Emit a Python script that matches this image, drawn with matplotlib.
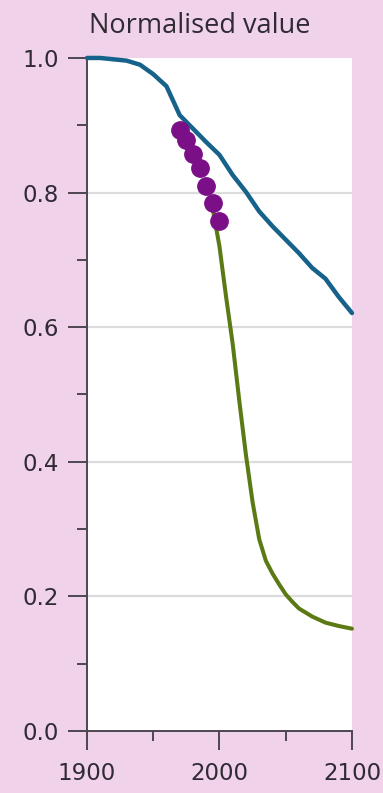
import numpy as np
import matplotlib
matplotlib.use('Agg')
import matplotlib.pyplot as plt
from matplotlib.ticker import MultipleLocator

plt.rcParams['font.family'] = ['DejaVu Sans']

PINK = '#f0d2eb'
BLUECOLOR = '#17628a'
GREENCOLOR = '#5b7a14'
DOTCOLOR = '#7a0f88'
AXISCOLOR = '#4d4650'
TEXTCOLOR = '#2f2a33'

# blue curve
blue_years = [1900, 1910, 1920, 1930, 1940, 1950, 1960, 1970, 1980, 1990, 2000,
              2010, 2020, 2030, 2040, 2050, 2060, 2070, 2080, 2090, 2100]
blue_vals = [1.0, 1.0, 0.998, 0.996, 0.99, 0.976, 0.958, 0.915, 0.895, 0.875, 0.856,
             0.826, 0.801, 0.772, 0.75, 0.73, 0.71, 0.688, 0.672, 0.645, 0.621]

# green curve
green_years = [1995, 2000, 2005, 2010, 2015, 2020, 2025, 2030, 2035, 2040, 2045,
               2050, 2055, 2060, 2070, 2080, 2090, 2100]
green_vals = [0.775, 0.72, 0.645, 0.575, 0.49, 0.41, 0.34, 0.285, 0.253, 0.234, 0.218,
              0.203, 0.192, 0.182, 0.17, 0.161, 0.156, 0.152]

# purple observations
dot_years = [1970, 1975, 1980, 1985, 1990, 1995, 2000]
dot_vals = [0.893, 0.878, 0.858, 0.836, 0.81, 0.785, 0.758]

ytick_vals = [0.0, 0.2, 0.4, 0.6, 0.8, 1.0]
xtick_vals = [1900, 2000, 2100]

fig = plt.figure(figsize=(3.83, 7.93), dpi=100, facecolor=PINK)
ax = fig.add_axes([0.227, 0.0782, 0.692, 0.8487])
ax.set_facecolor('white')

ax.plot(blue_years, blue_vals, color=BLUECOLOR, lw=3.2, solid_capstyle='round', zorder=3, clip_on=False)
ax.plot(green_years, green_vals, color=GREENCOLOR, lw=2.9, solid_capstyle='round', zorder=3, clip_on=False)
ax.plot(dot_years, dot_vals, ls='None', marker='o', ms=12.5, color=DOTCOLOR, mec=DOTCOLOR, zorder=4)

ax.set_xlim(1900, 2100)
ax.set_ylim(0, 1.0)
ax.set_yticks(ytick_vals)
ax.set_yticklabels(['%.1f' % v for v in ytick_vals])
ax.set_xticks(xtick_vals)
ax.set_xticklabels([str(v) for v in xtick_vals])
ax.xaxis.set_minor_locator(MultipleLocator(50))
ax.yaxis.set_minor_locator(MultipleLocator(0.1))

for v in [0.2, 0.4, 0.6, 0.8]:
    ax.axhline(v, color='#dcdcdc', lw=1.6, zorder=1)

for s in ['top', 'right']:
    ax.spines[s].set_visible(False)
for s in ['left', 'bottom']:
    ax.spines[s].set_color(AXISCOLOR)
    ax.spines[s].set_linewidth(1.4)

ax.tick_params(axis='both', which='major', direction='out', length=14, width=1.4,
               color=AXISCOLOR, labelcolor=TEXTCOLOR, labelsize=16.5)
ax.tick_params(axis='both', which='minor', direction='out', length=7, width=1.4, color=AXISCOLOR)
ax.tick_params(axis='x', which='major', pad=8)
ax.tick_params(axis='y', which='major', pad=6)

fig.text(0.522, 0.958, 'Normalised value', ha='center', va='baseline', fontsize=19.5,
         color=TEXTCOLOR, family=['Open Sans', 'DejaVu Sans'])

fig.savefig('out.png', dpi=100, facecolor=PINK)
